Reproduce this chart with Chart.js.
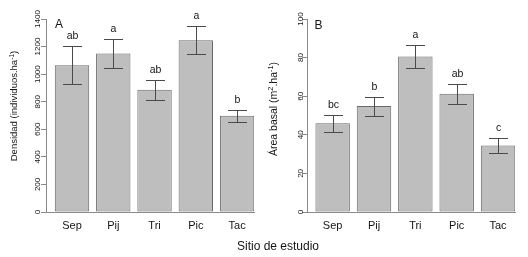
<!DOCTYPE html>
<html>
<head>
<meta charset="utf-8">
<script src="https://cdn.jsdelivr.net/npm/chart.js@4/dist/chart.umd.min.js"></script>
<style>
  html, body { margin:0; padding:0; background:#fff; }
  #wrap { position:relative; width:528px; height:257px; overflow:hidden; font-family:"Liberation Sans", Arial, sans-serif; color:#151515; }
  canvas { position:absolute; top:0; }
  .t { position:absolute; white-space:nowrap; line-height:1; }
  .ty { transform:translate(-50%,-50%) rotate(-90deg); }
  .tc { transform:translate(-50%,-50%); }
  sup { font-size:70%; line-height:0; vertical-align:0.45em; }
</style>
</head>
<body>
<div id="wrap">
  <canvas id="cA" width="264" height="257" style="left:0"></canvas>
  <canvas id="cB" width="264" height="257" style="left:264px"></canvas>
  <div class="t ty" style="left:13.5px; top:106px; font-size:9.5px;">Densidad (individuos.ha<sup>-1</sup>)</div>
  <div class="t ty" style="left:273px; top:109px; font-size:10.5px;">Área basal (m<sup>2</sup>.ha<sup>-1</sup>)</div>
  <div class="t tc" style="left:278px; top:246px; font-size:12px;">Sitio de estudio</div>
  <div class="t tc" style="left:59px; top:24px; font-size:12px;">A</div>
  <div class="t tc" style="left:318.5px; top:24.5px; font-size:12px;">B</div>
</div>
<script>
// ---- data ----
const sitios = ['Sep', 'Pij', 'Tri', 'Pic', 'Tac'];
const densidad = [1065, 1150, 886, 1245, 698];
const densidadErr = [137, 105, 75, 102, 45];
const densidadLetras = ['ab', 'a', 'ab', 'a', 'b'];
const areaBasal = [46.0, 54.9, 80.6, 61.3, 34.4];
const areaBasalErr = [4.4, 4.9, 6.0, 5.2, 3.7];
const areaBasalLetras = ['bc', 'b', 'a', 'ab', 'c'];
const densidadTicks = [0, 200, 400, 600, 800, 1000, 1200, 1400];
const areaTicks = [0, 20, 40, 60, 80, 100];

const FONT = '"Liberation Sans", Arial, sans-serif';

const errPlugin = {
  id: 'errbars',
  afterDatasetsDraw(chart, args, opts) {
    const ctx = chart.ctx, x = chart.scales.x, y = chart.scales.y;
    ctx.save();
    ctx.strokeStyle = '#4a4a4a';
    ctx.lineWidth = 1;
    ctx.fillStyle = '#151515';
    ctx.font = '10.5px ' + FONT;
    ctx.textAlign = 'center';
    ctx.textBaseline = 'alphabetic';
    opts.means.forEach((m, i) => {
      const px = Math.round(x.getPixelForValue(i)) + 0.5;
      const top = Math.round(y.getPixelForValue(m + opts.errs[i])) + 0.5;
      const bot = Math.round(y.getPixelForValue(m - opts.errs[i])) + 0.5;
      ctx.beginPath();
      ctx.moveTo(px, top); ctx.lineTo(px, bot);
      ctx.moveTo(px - 9.5, top); ctx.lineTo(px + 9.5, top);
      ctx.moveTo(px - 9.5, bot); ctx.lineTo(px + 9.5, bot);
      ctx.stroke();
      ctx.fillText(opts.letters[i], px, top - opts.gap);
    });
    ctx.restore();
  }
};

function makeChart(id, values, errs, letters, ticks, yLeft, rightPad, xmin, xmax, gap, tickPad) {
  return new Chart(document.getElementById(id), {
    type: 'bar',
    data: {
      datasets: [{
        data: values.map((v, i) => ({ x: i, y: v })),
        backgroundColor: '#bebebe',
        borderColor: '#6a6a6a',
        borderWidth: 1,
        borderSkipped: false,
        categoryPercentage: 1,
        barPercentage: 0.833
      }]
    },
    options: {
      responsive: false,
      animation: false,
      devicePixelRatio: 1,
      layout: { padding: { top: 19, right: rightPad, bottom: 0, left: 0 } },
      plugins: {
        legend: { display: false },
        tooltip: { enabled: false },
        errbars: { means: values, errs: errs, letters: letters, gap: gap }
      },
      scales: {
        x: {
          type: 'linear', min: xmin, max: xmax, offset: false,
          afterBuildTicks: s => { s.ticks = sitios.map((_, i) => ({ value: i })); },
          afterFit: s => { s.height = 45; },
          ticks: { callback: v => sitios[v], font: { size: 11, family: FONT }, color: '#151515', padding: 7, autoSkip: false, maxRotation: 0, minRotation: 0 },
          grid: { display: false, drawTicks: false, offset: false },
          border: { color: '#8a8a8a', width: 1 }
        },
        y: {
          min: ticks[0], max: ticks[ticks.length - 1],
          afterBuildTicks: s => { s.ticks = ticks.map(v => ({ value: v })); },
          afterFit: s => { s.width = yLeft; },
          ticks: { callback: v => String(v), font: { size: 8, family: FONT }, color: '#151515', minRotation: 90, maxRotation: 90, crossAlign: 'center', padding: tickPad },
          grid: { drawOnChartArea: false, tickLength: 5, color: '#8a8a8a' },
          border: { color: '#8a8a8a', width: 1 }
        }
      }
    },
    plugins: [errPlugin]
  });
}

makeChart('cA', densidad, densidadErr, densidadLetras, densidadTicks, 46, 10, -0.63, 4.41, 8, -5.5);
makeChart('cB', areaBasal, areaBasalErr, areaBasalLetras, areaTicks, 43, 13, -0.62, 4.41, 7.5, -5);
</script>
</body>
</html>
